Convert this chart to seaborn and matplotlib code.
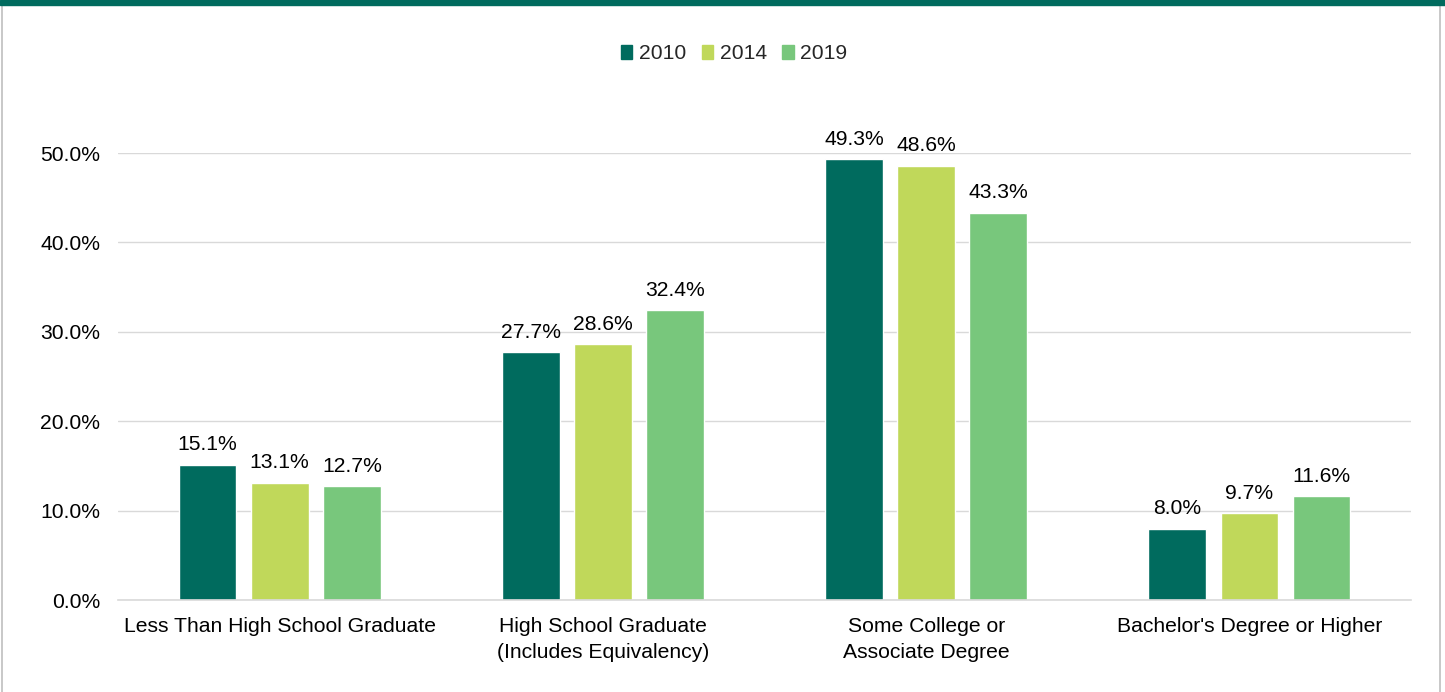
import matplotlib
matplotlib.use("Agg")
import matplotlib.pyplot as plt
from matplotlib.patches import Rectangle
from matplotlib.lines import Line2D
import seaborn as sns
import pandas as pd

categories = [
    "Less Than High School Graduate",
    "High School Graduate\n(Includes Equivalency)",
    "Some College or\nAssociate Degree",
    "Bachelor's Degree or Higher",
]
years = ["2010", "2014", "2019"]
values_2010 = [15.1, 27.7, 49.3, 8.0]
values_2014 = [13.1, 28.6, 48.6, 9.7]
values_2019 = [12.7, 32.4, 43.3, 11.6]
colors = ["#006b5e", "#c0d85a", "#78c77c"]

rows = []
for year, vals in zip(years, [values_2010, values_2014, values_2019]):
    for cat, v in zip(categories, vals):
        rows.append({"category": cat, "year": year, "value": v})
df = pd.DataFrame(rows)

sns.set_style("white")
plt.rcParams["font.family"] = ["Liberation Sans", "DejaVu Sans"]

FS = 15.2

fig = plt.figure(figsize=(14.45, 6.92), dpi=100)
ax = fig.add_axes([0.0817, 0.1329, 0.8948, 0.646])

sns.barplot(data=df, x="category", y="value", hue="year", order=categories,
            hue_order=years, palette=colors, width=0.67, gap=0.2,
            saturation=1, ax=ax, legend=False)

ax.set_ylim(0, 50)
ax.set_xlim(-0.5, len(categories) - 0.5)
ax.set_yticks([0, 10, 20, 30, 40, 50])
ax.set_yticklabels([f"{t:.1f}%" for t in [0, 10, 20, 30, 40, 50]])
ax.yaxis.grid(True, color="#d9d9d9", linewidth=1)
ax.set_axisbelow(True)
for s in ["top", "right", "left"]:
    ax.spines[s].set_visible(False)
ax.spines["bottom"].set_color("#d9d9d9")
ax.spines["bottom"].set_linewidth(1.2)
ax.tick_params(axis="y", length=0, pad=13, labelsize=FS, colors="#000000")
ax.tick_params(axis="x", length=0, pad=12, labelsize=FS, colors="#000000")
ax.set_xticks(range(len(categories)))
ax.set_xticklabels(categories, linespacing=1.5)
ax.set_xlabel("")
ax.set_ylabel("")

for container in ax.containers:
    for bar in container:
        h = bar.get_height()
        ax.text(bar.get_x() + bar.get_width() / 2, h + 1.2, f"{h:.1f}%",
                ha="center", va="bottom", fontsize=FS, color="#000000")

handles = [Rectangle((0, 0), 1, 1, color=c) for c in colors]
fig.legend(handles, years, loc="center", bbox_to_anchor=(0.508, 0.922),
           ncol=3, frameon=False, fontsize=FS, handlelength=0.55,
           handleheight=0.6, handletextpad=0.3, columnspacing=0.75)

# frame decorations
fig.patches.append(Rectangle((0, 0.9928), 1, 0.0072, transform=fig.transFigure,
                             color="#006b5e", zorder=10))
fig.lines.append(Line2D([0.0017, 0.0017], [0, 0.993], transform=fig.transFigure,
                        color="#bfbfbf", linewidth=1.2))
fig.lines.append(Line2D([0.9965, 0.9965], [0, 0.993], transform=fig.transFigure,
                        color="#bfbfbf", linewidth=1.2))

fig.savefig("out.png", dpi=100, facecolor="white")
